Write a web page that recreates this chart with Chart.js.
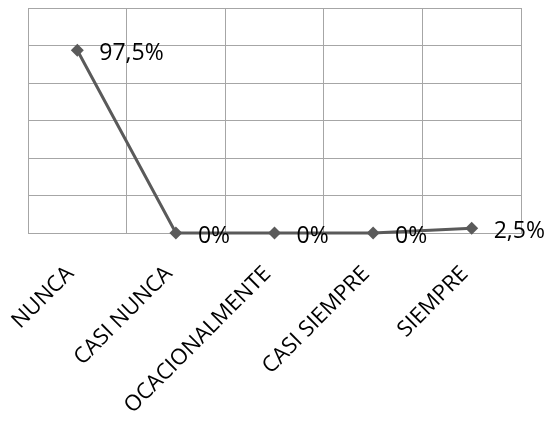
<!DOCTYPE html>
<html>
<head>
<meta charset="utf-8">
<script src="https://cdn.jsdelivr.net/npm/chart.js@4"></script>
<style>
    html, body { margin: 0; padding: 0; background: #ffffff; }
    #wrap { width: 548px; height: 421px; position: relative; }
</style>
</head>
<body>
<div id="wrap"><canvas id="frecuenciaChart"></canvas></div>
<script>
// categorias y porcentajes
const categorias = ['NUNCA', 'CASI NUNCA', 'OCACIONALMENTE', 'CASI SIEMPRE', 'SIEMPRE'];
const porcentajes = [97.5, 0, 0, 0, 2.5];
const yTicks = [0, 20, 40, 60, 80, 100, 120];

const lineColor = '#5a5a5a';
const gridColor = '#a6a6a6';

// etiquetas "97,5%" a la derecha de cada punto
const valueLabels = {
    id: 'valueLabels',
    afterDatasetsDraw(chart) {
        const ctx = chart.ctx;
        const meta = chart.getDatasetMeta(0);
        ctx.save();
        ctx.font = '23px "Open Sans"';
        ctx.fillStyle = '#000000';
        ctx.textAlign = 'left';
        ctx.textBaseline = 'middle';
        meta.data.forEach((pt, i) => {
            const txt = String(porcentajes[i]).replace('.', ',') + '%';
            ctx.fillText(txt, pt.x + 22, pt.y + 3);
        });
        ctx.restore();
    }
};

const ctx = document.getElementById('frecuenciaChart').getContext('2d');
const chart = new Chart(ctx, {
    type: 'line',
    data: {
        labels: categorias,
        datasets: [{
            data: porcentajes,
            borderColor: lineColor,
            backgroundColor: lineColor,
            borderWidth: 3,
            pointStyle: 'rectRot',
            pointRadius: 6.5,
            pointHoverRadius: 6.5,
            pointBackgroundColor: lineColor,
            pointBorderWidth: 0,
            tension: 0,
            clip: false
        }]
    },
    options: {
        responsive: true,
        maintainAspectRatio: false,
        animation: false,
        layout: {
            padding: { left: 28, top: 8, right: 27, bottom: 0 }
        },
        scales: {
            x: {
                offset: true,
                grid: {
                    offset: true,
                    color: gridColor,
                    lineWidth: 1,
                    drawTicks: false
                },
                border: { color: gridColor, width: 1 },
                ticks: {
                    color: '#000000',
                    font: { family: 'Open Sans', size: 22 },
                    minRotation: 45,
                    maxRotation: 45,
                    padding: 28,
                    labelOffset: -7,
                    autoSkip: false
                },
                afterFit(scale) {
                    scale.height = 188;
                    scale.paddingLeft = 0;
                    scale.paddingRight = 0;
                }
            },
            y: {
                min: 0,
                max: 120,
                afterBuildTicks(scale) {
                    scale.ticks = yTicks.map(v => ({ value: v }));
                },
                grid: {
                    color: gridColor,
                    lineWidth: 1,
                    drawTicks: false
                },
                border: { display: false },
                ticks: { display: false }
            }
        },
        plugins: {
            legend: { display: false },
            tooltip: { enabled: false }
        }
    },
    plugins: [valueLabels]
});
</script>
</body>
</html>
